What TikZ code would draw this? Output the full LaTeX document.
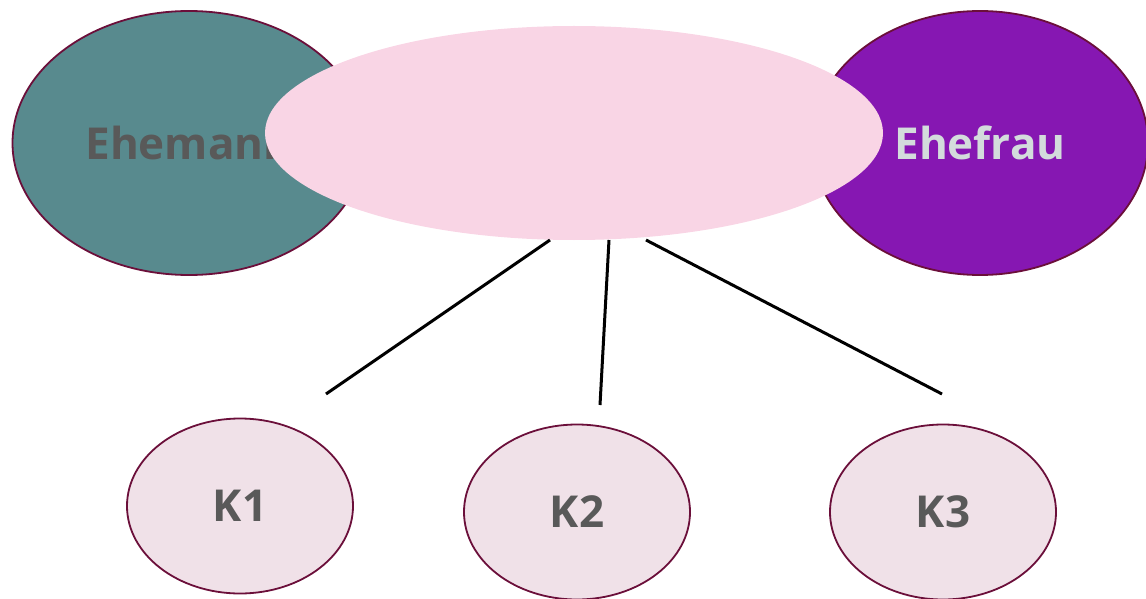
\documentclass[tikz,border=0pt]{standalone}
\usepackage{fontspec}
\setmainfont{Open Sans}
\usetikzlibrary{shapes.geometric}
\definecolor{teal1}{HTML}{588A8E}
\definecolor{purp}{HTML}{8617B2}
\definecolor{pinkc}{HTML}{F9D5E5}
\definecolor{kfill}{HTML}{F0E1E8}
\definecolor{bord}{HTML}{6B0F3A}
\definecolor{txt}{HTML}{595959}
\definecolor{ltxt}{HTML}{D3DCDC}
\tikzset{
  oval/.style={ellipse, draw=bord, line width=1.8pt, inner sep=0pt, font=\bfseries\fontsize{44}{52}\selectfont, text=txt},
  kid/.style={oval, fill=kfill, minimum width=226pt, minimum height=175pt},
  link/.style={line width=3pt, black}
}
\begin{document}
\begin{tikzpicture}[x=1pt,y=-1pt]
\useasboundingbox (0,0) rectangle (1146,599);
\node[oval, fill=teal1, minimum width=353pt, minimum height=264pt] (mann) at (189,143) {Ehemann};
\node[oval, fill=purp, text=ltxt, minimum width=336pt, minimum height=264pt] (frau) at (980,143) {Ehefrau};
\node[ellipse, fill=pinkc, inner sep=0pt, minimum width=618pt, minimum height=214pt] (ehe) at (574,133) {};
\node[kid] (k1) at (240,506) {K1};
\node[kid] (k2) at (577,512) {K2};
\node[kid] (k3) at (943,512) {K3};
\coordinate (s1) at (550,240);
\coordinate (s2) at (609,240);
\coordinate (s3) at (646,240);
\coordinate (e1) at (326,394);
\coordinate (e2) at (600,405);
\coordinate (e3) at (942,394);
\draw[link] (s1) -- (e1);
\draw[link] (s2) -- (e2);
\draw[link] (s3) -- (e3);
\end{tikzpicture}
\end{document}
